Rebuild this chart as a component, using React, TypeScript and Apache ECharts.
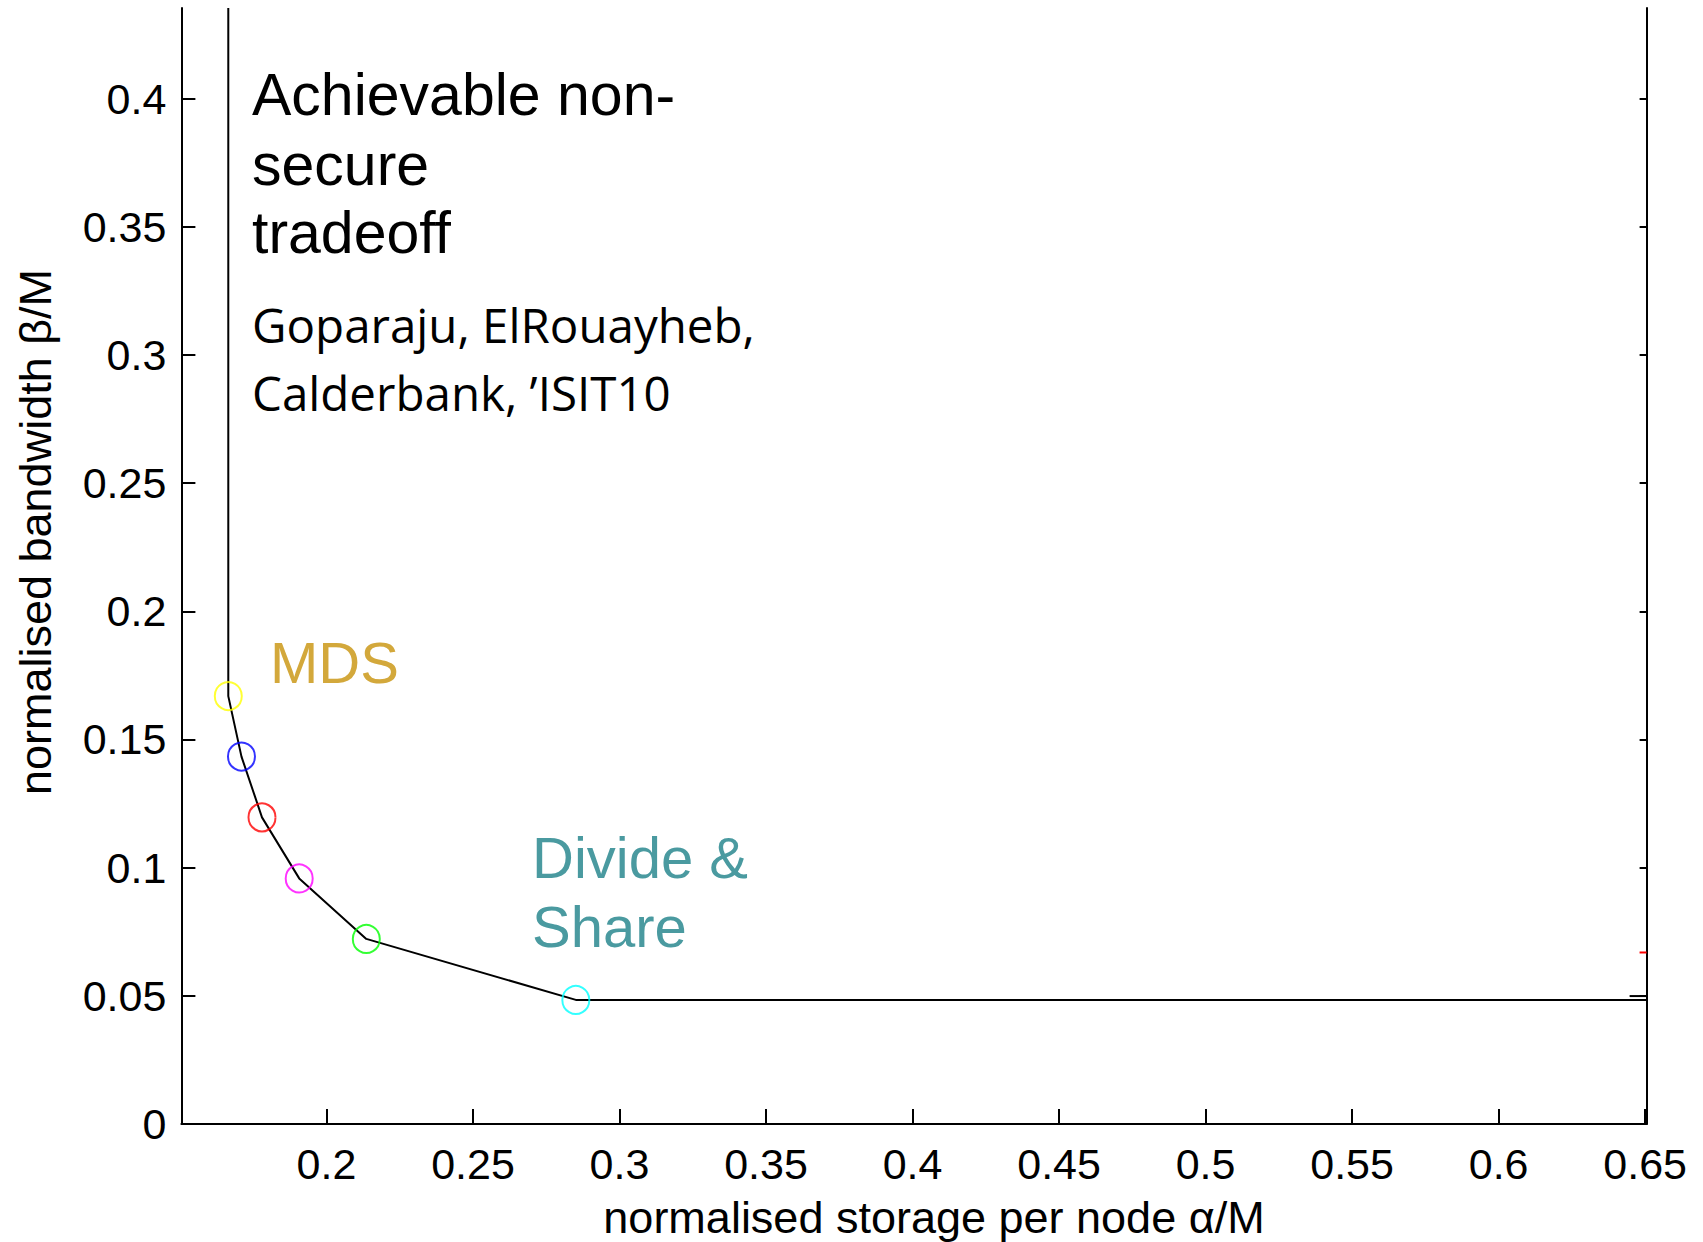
import React, { useEffect, useRef } from "react";
import * as echarts from "echarts";

// ---- data ----
const xTickValues = [0.2, 0.25, 0.3, 0.35, 0.4, 0.45, 0.5, 0.55, 0.6, 0.65];
const yTickValues = [0, 0.05, 0.1, 0.15, 0.2, 0.25, 0.3, 0.35, 0.4];
const xMin = 0.1505;
const xMax = 0.6505;
const yMin = 0;
const yMax = 0.4353;

// tradeoff curve (vertical at MDS, corner points, flat after Divide & Share)
const curveAlpha = [0.1665, 0.1665, 0.171, 0.178, 0.1907, 0.2136, 0.2851, 0.6505];
const curveBeta = [0.4353, 0.1669, 0.1433, 0.1196, 0.0958, 0.0722, 0.0484, 0.0484];

// circled points
const pointAlpha = [0.1665, 0.171, 0.178, 0.1907, 0.2136, 0.2851];
const pointBeta = [0.1669, 0.1433, 0.1196, 0.0958, 0.0722, 0.0484];
const pointColors = ["#FFFF00", "#0000FF", "#FF0000", "#FF00FF", "#00FF00", "#00FFFF"];

// small stubs at the right edge
const redStubAlpha = [0.6481, 0.6505];
const redStubBeta = [0.0669, 0.0669];
const blackStubAlpha = [0.6447, 0.6505];
const blackStubBeta = [0.0499, 0.0499];

const SANS = "'Liberation Sans', Arial, Helvetica, sans-serif";
const NOTE = "'Open Sans', 'Noto Sans', sans-serif";

export default function App() {
  const ref = useRef<HTMLDivElement>(null);

  useEffect(() => {
    if (!ref.current) return;
    const chart = echarts.init(ref.current, undefined, { renderer: "svg" });

    const curveData = curveAlpha.map((a, i) => [a, curveBeta[i]]);
    const pointData = pointAlpha.map((a, i) => ({
      value: [a, pointBeta[i]],
      itemStyle: {
        color: "rgba(0,0,0,0)",
        borderColor: pointColors[i],
        borderWidth: 2,
      },
    }));

    const textEl = (
      text: string,
      x: number,
      y: number,
      fontSize: number,
      family: string,
      fill: string,
      align: string = "left",
      rotation = 0
    ) => ({
      type: "text",
      x,
      y,
      rotation,
      silent: true,
      style: {
        text,
        x: 0,
        y: 0,
        fill,
        font: `${fontSize}px ${family}`,
        align,
        verticalAlign: "middle",
        textAlign: align,
        textVerticalAlign: "middle",
      },
    });

    const option: any = {
      animation: false,
      backgroundColor: "#ffffff",
      grid: { left: 181.4, right: 56.4, top: 8, bottom: 118, containLabel: false },
      xAxis: {
        type: "value",
        min: xMin,
        max: xMax,
        axisLine: { show: true, onZero: false, lineStyle: { color: "#000", width: 2 } },
        axisTick: {
          show: true,
          inside: true,
          length: 15,
          customValues: xTickValues,
          lineStyle: { color: "#000", width: 2 },
        },
        axisLabel: {
          show: true,
          customValues: xTickValues,
          margin: 18,
          color: "#000",
          fontSize: 43,
          fontFamily: SANS,
          formatter: (v: number) => String(+v.toFixed(2)),
        },
        splitLine: { show: false },
      },
      yAxis: [
        {
          type: "value",
          min: yMin,
          max: yMax,
          axisLine: { show: true, onZero: false, lineStyle: { color: "#000", width: 2 } },
          axisTick: {
            show: true,
            inside: true,
            length: 14,
            customValues: yTickValues,
            lineStyle: { color: "#000", width: 2 },
          },
          axisLabel: {
            show: true,
            customValues: yTickValues,
            margin: 15,
            color: "#000",
            fontSize: 43,
            fontFamily: SANS,
            formatter: (v: number) => String(+v.toFixed(2)),
          },
          splitLine: { show: false },
        },
        {
          type: "value",
          position: "right",
          min: yMin,
          max: yMax,
          axisLine: { show: true, onZero: false, lineStyle: { color: "#000", width: 2 } },
          axisTick: {
            show: true,
            inside: true,
            length: 7,
            customValues: yTickValues,
            lineStyle: { color: "#000", width: 2 },
          },
          axisLabel: { show: false },
          splitLine: { show: false },
        },
      ],
      series: [
        {
          name: "tradeoff",
          type: "line",
          data: curveData,
          showSymbol: false,
          symbol: "none",
          lineStyle: { color: "#000", width: 2 },
          silent: true,
          z: 2,
        },
        {
          name: "points",
          type: "scatter",
          data: pointData,
          symbol: "circle",
          symbolSize: [27, 28],
          silent: true,
          z: 3,
        },
        {
          name: "redStub",
          type: "line",
          data: redStubAlpha.map((a, i) => [a, redStubBeta[i]]),
          showSymbol: false,
          symbol: "none",
          lineStyle: { color: "#FF0000", width: 2 },
          silent: true,
        },
        {
          name: "blackStub",
          type: "line",
          data: blackStubAlpha.map((a, i) => [a, blackStubBeta[i]]),
          showSymbol: false,
          symbol: "none",
          lineStyle: { color: "#000", width: 2 },
          silent: true,
        },
      ],
      graphic: [
        textEl("Achievable non-", 252, 95, 59, SANS, "#000"),
        textEl("secure", 252, 164.5, 59, SANS, "#000"),
        textEl("tradeoff", 252, 232.5, 59, SANS, "#000"),
        textEl("Goparaju, ElRouayheb,", 252, 324.8, 47.5, NOTE, "#000"),
        textEl("Calderbank, \u2019ISIT10", 252, 392.3, 47.5, NOTE, "#000"),
        textEl("MDS", 270, 662, 58, SANS, "#D3A83B"),
        textEl("Divide &", 532, 857.6, 58, SANS, "#4A9AA0"),
        textEl("Share", 532, 926, 58, SANS, "#4A9AA0"),
        textEl("normalised storage per node \u03B1/M", 934, 1217, 45, SANS, "#000", "center"),
        textEl("normalised bandwidth \u03B2/M", 35, 532, 45, SANS, "#000", "center", Math.PI / 2),
      ],
    };

    chart.setOption(option);
    return () => chart.dispose();
  }, []);

  return (
    <div
      ref={ref}
      style={{ position: "fixed", left: 0, top: 0, width: 1703, height: 1242, background: "#fff" }}
    />
  );
}
